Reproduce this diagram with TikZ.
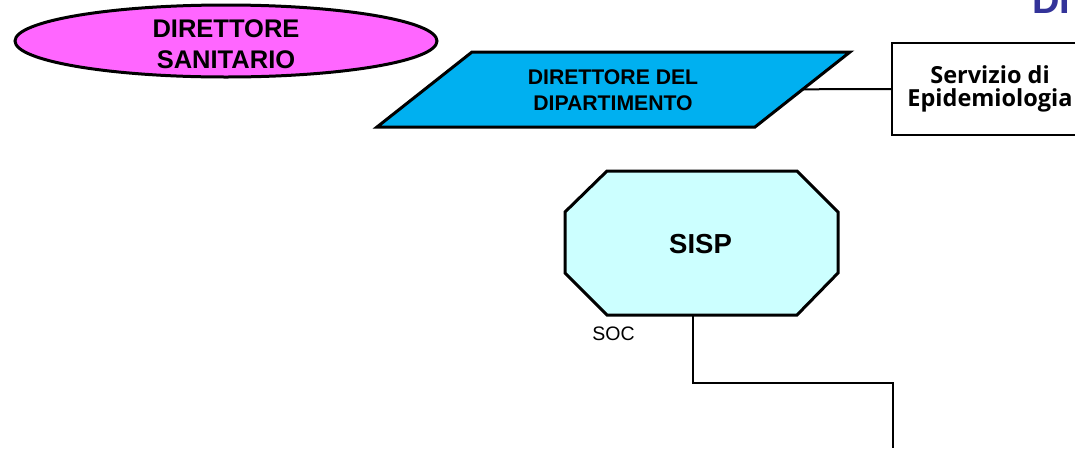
\documentclass[tikz,border=0pt]{standalone}
\usepackage{fontspec}
\setmainfont{Liberation Sans}
\newfontfamily\epifont{Open Sans}
\usetikzlibrary{positioning,shapes.geometric}
\usepackage{xcolor}
\definecolor{dirpink}{HTML}{FF66FF}
\definecolor{dipblue}{HTML}{00B0F0}
\definecolor{sispcyan}{HTML}{CCFFFF}
\definecolor{titleblue}{HTML}{333399}

\begin{document}
\begin{tikzpicture}[x=1pt,y=-1pt,
    shapeline/.style={draw=black,line width=3pt,line join=miter},
    conn/.style={draw=black,line width=2pt},
    boldtext/.style={inner sep=0pt,align=center,font=\bfseries}]
      \useasboundingbox (0,0) rectangle (1075,448);
      % title, cut off at the edge
      \node[anchor=base west,inner sep=0pt,text=titleblue,font=\fontsize{38}{40}\selectfont\bfseries] (title) at (1032,13) {DI};
      % direttore sanitario
      \node[ellipse,shapeline,fill=dirpink,minimum width=422,minimum height=72,inner sep=0pt] (dirsan) at (226,41) {};
      \node[boldtext,font=\fontsize{25.5}{30.5}\selectfont\bfseries] (dirsantext) at (226,44) {DIRETTORE\\SANITARIO};
      % direttore del dipartimento
      \coordinate (dip1) at (377,127);
      \coordinate (dip2) at (472,52);
      \coordinate (dip3) at (850,52);
      \coordinate (dip4) at (755,127);
      \coordinate (dipright) at (802.7,89.3);
      \draw[shapeline,fill=dipblue] (dip1) -- (dip2) -- (dip3) -- (dip4) -- cycle;
      \node[boldtext,font=\fontsize{21.2}{25.7}\selectfont\bfseries] (dip) at (613,90.4) {DIRETTORE DEL\\DIPARTIMENTO};
      % servizio di epidemiologia
      \node[conn,minimum width=196,minimum height=92,inner sep=0pt,align=center,
            font=\epifont\fontsize{23.5}{23.3}\selectfont\bfseries] (epi) at (990,89) {Servizio di\\Epidemiologia};
      \draw[conn] (dipright) -- (epi.west);
      % SISP
      \draw[shapeline,fill=sispcyan] (607,171) -- (797,171) -- (838,212) -- (838,273)
            -- (797,315) -- (607,315) -- (565,273) -- (565,212) -- cycle;
      \node[boldtext,font=\fontsize{27.5}{29}\selectfont\bfseries] (sisp) at (700.5,244) {SISP};
      \node[inner sep=0pt,font=\fontsize{19.5}{21}\selectfont] (soc) at (613.5,333.5) {SOC};
      \coordinate (sispbot) at (693,315);
      \coordinate (bend) at (893,383);
      \coordinate (down) at (893,448);
      \draw[conn] (sispbot) |- (bend) -- (down);
\end{tikzpicture}
\end{document}
